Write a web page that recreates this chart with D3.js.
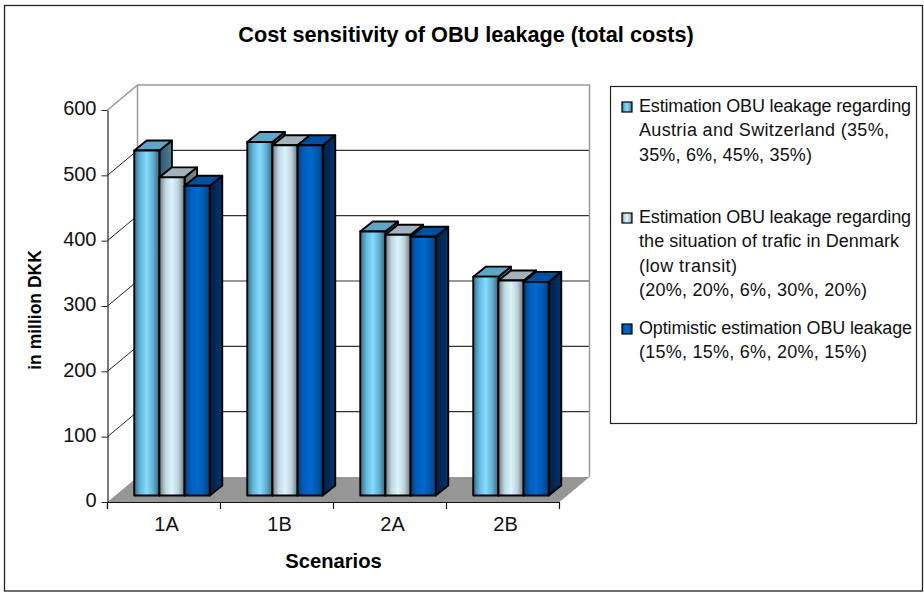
<!DOCTYPE html>
<html>
<head>
<meta charset="utf-8">
<script src="https://cdn.jsdelivr.net/npm/d3@7/dist/d3.min.js"></script>
<style>
  html, body { margin: 0; padding: 0; background: #fff; }
  svg { display: block; font-family: "Liberation Sans", Arial, sans-serif; }
</style>
</head>
<body>
<svg id="chart" width="924" height="592"></svg>
<script>
// Scenario totals, in million DKK
const categories = ["1A", "1B", "2A", "2B"];
const seriesKeys = ["austria", "denmark", "optimistic"];
const austriaValues = [528, 541, 404, 335];
const denmarkValues = [487, 536, 399, 329];
const optimisticValues = [474, 536, 396, 327];
const yTicks = [0, 100, 200, 300, 400, 500, 600];

const chartTitle = "Cost sensitivity of OBU leakage (total costs)";
const yTitle = "in million DKK";
const xTitle = "Scenarios";
const austriaLegend = ["Estimation OBU leakage regarding", "Austria and Switzerland (35%,", "35%, 6%, 45%, 35%)"];
const denmarkLegend = ["Estimation OBU leakage regarding", "the situation of trafic in Denmark", "(low transit)", "(20%, 20%, 6%, 30%, 20%)"];
const optimisticLegend = ["Optimistic estimation OBU leakage", "(15%, 15%, 6%, 20%, 15%)"];

const valuesByKey = { austria: austriaValues, denmark: denmarkValues, optimistic: optimisticValues };
const legendByKey = { austria: austriaLegend, denmark: denmarkLegend, optimistic: optimisticLegend };

// Run length of each legend line, so the wrapped text stays inside its box
const legendLineWidths = { austria: [272, 250, 173], denmark: [272, 260, 98, 228], optimistic: [273, 228] };

// Shading per series: front gradient stops, roof and side colours
const palette = {
  austria:    { front: ["#336f8e", "#68b8dc", "#84dcff", "#66afd0", "#33687f"], top: "#5fa5c6", side: ["#34596b", "#4a7d96"] },
  denmark:    { front: ["#6f7a80", "#c0d8e2", "#dcf3fd", "#bcd2dc", "#6c777c"], top: "#a2b3bc", side: ["#5f6a70", "#838f95"] },
  optimistic: { front: ["#00407f", "#005ebb", "#0068cf", "#005ab2", "#003f7d"], top: "#004f9f", side: ["#001d42", "#00356e"] }
};

const svg = d3.select("#chart");
const defs = svg.append("defs");

seriesKeys.forEach(key => {
  const front = defs.append("linearGradient").attr("id", `front-${key}`);
  palette[key].front.forEach((c, i, all) =>
    front.append("stop").attr("offset", i / (all.length - 1)).attr("stop-color", c));
  const side = defs.append("linearGradient").attr("id", `side-${key}`);
  palette[key].side.forEach((c, i, all) =>
    side.append("stop").attr("offset", i / (all.length - 1)).attr("stop-color", c));
});

// Outer frame
svg.append("rect").attr("x", 4.5).attr("y", 5.5).attr("width", 918).attr("height", 585.5)
  .attr("fill", "#fff").attr("stroke", "#222").attr("stroke-width", 1.3);

// Projection of the 3D box: front plane scales plus depth offsets
const wallDepth = { dx: 30, dy: -25 };
const barInset = { dx: 8, dy: -6.5 };
const barDepth = { dx: 12.5, dy: -10 };

const y = d3.scaleLinear().domain([0, 600]).range([502, 110]);
const x0 = d3.scaleBand().domain(categories).range([107.5, 559.5]).paddingInner(0).paddingOuter(0);
const groupWidth = 75.5;
const x1 = d3.scaleBand().domain(seriesKeys)
  .range([(x0.bandwidth() - groupWidth) / 2, (x0.bandwidth() + groupWidth) / 2]);

const left = x0.range()[0], right = x0.range()[1];
const floorY = y(0), topY = y(600);
const poly = pts => pts.map(p => p.join(",")).join(" ");

// Back wall
svg.append("rect")
  .attr("x", left + wallDepth.dx).attr("y", topY + wallDepth.dy)
  .attr("width", right - left).attr("height", floorY - topY)
  .attr("fill", "#fff");

// Floor
svg.append("polygon")
  .attr("points", poly([[left, floorY], [right, floorY], [right + wallDepth.dx, floorY + wallDepth.dy], [left + wallDepth.dx, floorY + wallDepth.dy]]))
  .attr("fill", "#969696");

// Gridlines along the back wall and the left side wall
const gridValues = yTicks.filter(v => v > 0 && v < 600);
svg.append("g").selectAll("line").data(gridValues).join("line")
  .attr("x1", left + wallDepth.dx).attr("x2", right + wallDepth.dx)
  .attr("y1", d => y(d) + wallDepth.dy).attr("y2", d => y(d) + wallDepth.dy)
  .attr("stroke", "#333").attr("stroke-width", 1.1);
svg.append("g").selectAll("line").data(gridValues).join("line")
  .attr("x1", left).attr("x2", left + wallDepth.dx)
  .attr("y1", d => y(d)).attr("y2", d => y(d) + wallDepth.dy)
  .attr("stroke", "#222").attr("stroke-width", 1);

// Wall outline in grey
svg.append("polyline")
  .attr("points", poly([
    [left, topY], [left + wallDepth.dx, topY + wallDepth.dy],
    [right + wallDepth.dx, topY + wallDepth.dy], [right + wallDepth.dx, floorY + wallDepth.dy]
  ]))
  .attr("fill", "none").attr("stroke", "#999").attr("stroke-width", 1.5);
svg.append("line")
  .attr("x1", left + wallDepth.dx).attr("x2", left + wallDepth.dx)
  .attr("y1", topY + wallDepth.dy).attr("y2", floorY + wallDepth.dy)
  .attr("stroke", "#999").attr("stroke-width", 1.5);

// Bars: each one a front face, a roof and a side face
const barStroke = { stroke: "#000", width: 1.9 };
categories.forEach((cat, ci) => {
  const g = svg.append("g").attr("class", "group");
  seriesKeys.forEach(key => {
    const bx = x0(cat) + x1(key) + barInset.dx;
    const bw = x1.bandwidth();
    const by = y(valuesByKey[key][ci]) + barInset.dy;
    const base = y(0) + barInset.dy;
    const face = (sel, fill) => sel.attr("fill", fill)
      .attr("stroke", barStroke.stroke).attr("stroke-width", barStroke.width).attr("stroke-linejoin", "round");

    g.append("polygon").call(face, `url(#side-${key})`)
      .attr("points", poly([[bx + bw, by], [bx + bw + barDepth.dx, by + barDepth.dy], [bx + bw + barDepth.dx, base + barDepth.dy], [bx + bw, base]]));
    g.append("polygon").call(face, palette[key].top)
      .attr("points", poly([[bx, by], [bx + barDepth.dx, by + barDepth.dy], [bx + bw + barDepth.dx, by + barDepth.dy], [bx + bw, by]]));
    g.append("rect").call(face, `url(#front-${key})`)
      .attr("x", bx).attr("y", by).attr("width", bw).attr("height", base - by);
  });
});

// Value axis
const yAxis = svg.append("g").attr("transform", `translate(${left},0)`)
  .call(d3.axisLeft(y).tickValues(yTicks).tickSize(6).tickSizeOuter(0).tickPadding(5));
yAxis.select(".domain").attr("stroke", "#222").attr("stroke-width", 1.2);
yAxis.selectAll(".tick line").attr("stroke", "#222");
yAxis.selectAll("text").attr("font-size", 20).attr("font-family", "Liberation Sans").attr("fill", "#111")
  .attr("transform", "translate(0,-1.5)");
svg.append("line").attr("x1", left).attr("x2", left).attr("y1", floorY).attr("y2", floorY + 7)
  .attr("stroke", "#222").attr("stroke-width", 1.2);

// Category axis: labels from the band scale, ticks at the band edges
const xAxis = svg.append("g").attr("transform", `translate(0,${floorY})`)
  .call(d3.axisBottom(x0).tickSize(0).tickPadding(15));
xAxis.select(".domain").attr("stroke", "#111").attr("stroke-width", 1.2);
xAxis.selectAll("text").attr("font-size", 20).attr("font-family", "Liberation Sans").attr("fill", "#111").attr("dx", 2.5);
svg.append("g").selectAll("line").data(d3.range(categories.length + 1)).join("line")
  .attr("x1", i => left + i * x0.step()).attr("x2", i => left + i * x0.step())
  .attr("y1", floorY).attr("y2", floorY + 7)
  .attr("stroke", "#111").attr("stroke-width", 1.2);

// Titles
svg.append("text").attr("x", 466).attr("y", 42).attr("text-anchor", "middle")
  .attr("font-size", 21.7).attr("font-weight", "bold").attr("fill", "#000").text(chartTitle);
svg.append("text").attr("transform", "translate(41,310) rotate(-90)").attr("text-anchor", "middle")
  .attr("font-size", 17.5).attr("font-weight", "bold").attr("fill", "#000").text(yTitle);
svg.append("text").attr("x", 333.5).attr("y", 568).attr("text-anchor", "middle")
  .attr("font-size", 20.2).attr("font-weight", "bold").attr("fill", "#000").text(xTitle);

// Legend
svg.append("rect").attr("x", 610.5).attr("y", 86.5).attr("width", 306).attr("height", 337)
  .attr("fill", "#fff").attr("stroke", "#222").attr("stroke-width", 1.2);

const legendRowY = { austria: 112, denmark: 223, optimistic: 334 };
const lineHeight = 24.3;
seriesKeys.forEach(key => {
  const g = svg.append("g").attr("class", "legend-item");
  g.append("rect").attr("x", 622).attr("y", legendRowY[key] - 10).attr("width", 10).attr("height", 10)
    .attr("fill", `url(#front-${key})`).attr("stroke", "#000").attr("stroke-width", 1.2);
  g.selectAll("text").data(legendByKey[key]).join("text")
    .attr("x", 639).attr("y", (d, i) => legendRowY[key] + i * lineHeight)
    .attr("font-size", 18).attr("fill", "#111")
    .attr("textLength", (d, i) => legendLineWidths[key][i]).attr("lengthAdjust", "spacing")
    .text(d => d);
});
</script>
</body>
</html>
